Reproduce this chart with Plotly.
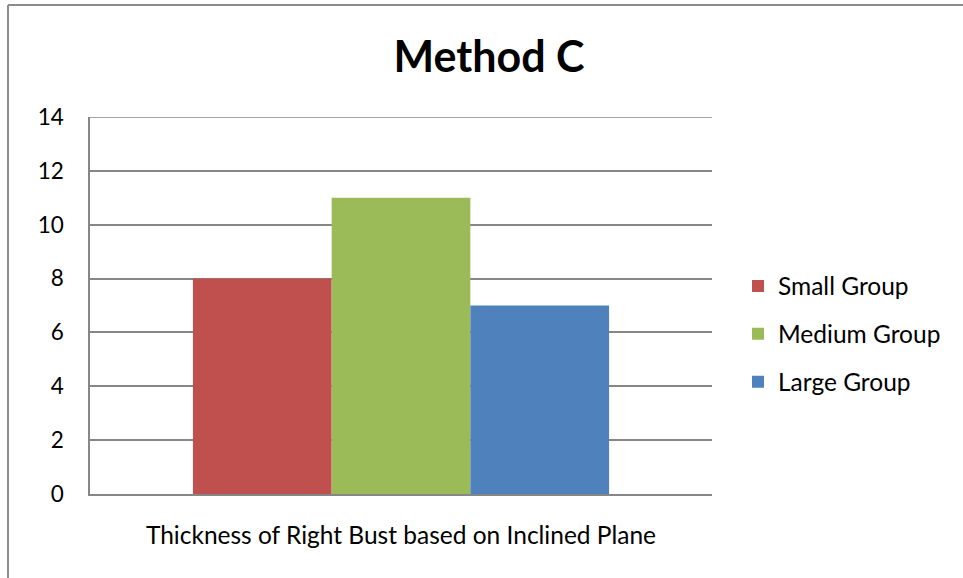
import plotly.graph_objects as go

# Chart data
category = ["Thickness of Right Bust based on Inclined Plane"]
series_names = ["Small Group", "Medium Group", "Large Group"]
series_values = [[8], [11], [7]]
series_colors = ["#C0504D", "#9BBB59", "#4F81BD"]
y_ticks = [0, 2, 4, 6, 8, 10, 12, 14]

W, H = 963, 578
L, R, T, B = 90, 251, 117, 84

fig = go.Figure()
for name, vals, col in zip(series_names, series_values, series_colors):
    fig.add_trace(go.Bar(x=category, y=vals, name=name, marker_color=col,
                         marker_line_width=0, legendgroup=name))

font_family = "Lato, 'Open Sans', sans-serif"
grid_col = "#878787"

fig.update_layout(
    width=W, height=H,
    margin=dict(l=L, r=R, t=T, b=B, autoexpand=False),
    paper_bgcolor="white", plot_bgcolor="white",
    barmode="group", bargap=0.331, bargroupgap=0,
    font=dict(family=font_family, size=20, color="black"),
    title=dict(text="<b>Method C</b>", x=489 / W, xanchor="center",
               y=1 - 57 / H, yanchor="middle",
               font=dict(size=43, family=font_family, color="black")),
    xaxis=dict(showline=True, linecolor=grid_col, linewidth=1.5,
               ticks="", tickfont=dict(size=24.5), ticklabelstandoff=19),
    yaxis=dict(range=[0, 14], tickvals=y_ticks, showgrid=True,
               gridcolor=grid_col, gridwidth=1.5, showline=True,
               linecolor=grid_col, linewidth=1.5, ticks="",
               zeroline=False, ticklabelstandoff=20,
               tickfont=dict(size=22.5)),
    legend=dict(x=738 / W, xanchor="left", y=1 - 334 / H, yanchor="middle",
                yref="container", xref="container",
                font=dict(size=24.5), itemsizing="constant",
                traceorder="grouped", tracegroupgap=13, itemwidth=30),
    showlegend=True,
)

# Top gridline at the axis maximum
fig.add_shape(type="line", xref="paper", yref="y", x0=0, x1=1,
              y0=y_ticks[-1], y1=y_ticks[-1],
              line=dict(color=grid_col, width=1.5))

# Chart-area frame (left and top edges visible)
fx0 = (8 - L) / (W - L - R)
fx1 = (W + 5 - L) / (W - L - R)
fy_top = 1 + (T - 5) / (H - T - B)
fy_bot = -(B + 10) / (H - T - B)
fig.add_shape(type="line", xref="paper", yref="paper",
              x0=fx0, x1=fx1, y0=fy_top, y1=fy_top,
              line=dict(color="#8c8c8c", width=2))
fig.add_shape(type="line", xref="paper", yref="paper",
              x0=fx0, x1=fx0, y0=fy_top, y1=fy_bot,
              line=dict(color="#8c8c8c", width=2))

fig.write_html("out.html")
